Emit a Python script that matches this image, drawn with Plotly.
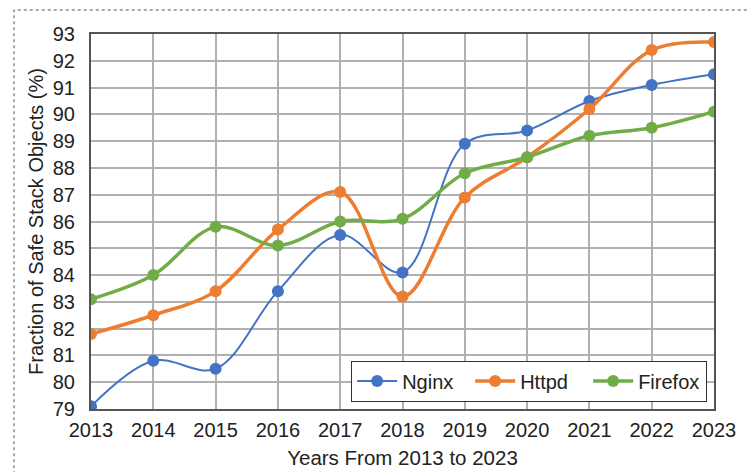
import plotly.graph_objects as go

years = [2013, 2014, 2015, 2016, 2017, 2018, 2019, 2020, 2021, 2022, 2023]
nginx = [79.1, 80.8, 80.5, 83.4, 85.5, 84.1, 88.9, 89.4, 90.5, 91.1, 91.5]
httpd = [81.8, 82.5, 83.4, 85.7, 87.1, 83.2, 86.9, 88.4, 90.2, 92.4, 92.7]
firefox = [83.1, 84.0, 85.8, 85.1, 86.0, 86.1, 87.8, 88.4, 89.2, 89.5, 90.1]
y_ticks = list(range(79, 94))

series = [
    ("Nginx", nginx, "#4472C4", 2),
    ("Httpd", httpd, "#ED7D31", 3.5),
    ("Firefox", firefox, "#70AD47", 3.5),
]

fig = go.Figure()
for name, vals, color, w in series:
    fig.add_trace(go.Scatter(
        x=years, y=vals, name=name, mode="lines+markers",
        line=dict(color=color, width=w, shape="spline", smoothing=1.0),
        marker=dict(color=color, size=12),
    ))

font_family = "Liberation Sans, Arial, sans-serif"
fig.update_layout(
    width=756, height=472,
    margin=dict(l=83, r=50, t=26, b=71),
    paper_bgcolor="white", plot_bgcolor="white",
    font=dict(family=font_family, size=20, color="#222222"),
    showlegend=True,
    legend=dict(
        orientation="h", x=0.989, y=0.02, xanchor="right", yanchor="bottom",
        bordercolor="#333333", borderwidth=1, bgcolor="white",
        font=dict(size=20), itemwidth=40, entrywidth=63,
    ),
    xaxis=dict(
        range=[2013, 2023], tickvals=years, ticktext=[str(y) for y in years],
        showgrid=True, gridcolor="#b0b0b0", gridwidth=1.5,
        showline=True, linecolor="#555555", linewidth=2, mirror=True,
        ticks="", ticklabelstandoff=2,
        title=dict(text="Years From 2013 to 2023", font=dict(size=20.5), standoff=11),
    ),
    yaxis=dict(
        range=[79, 93], tickvals=y_ticks,
        showgrid=True, gridcolor="#b0b0b0", gridwidth=1.5,
        showline=True, linecolor="#555555", linewidth=2, mirror=True,
        ticks="", ticklabelstandoff=10,
        title=dict(text="Fraction of Safe Stack Objects (%)", font=dict(size=20), standoff=4),
    ),
    shapes=[dict(
        type="rect", xref="paper", yref="paper",
        x0=-0.1236, x1=1.061, y0=-0.25, y1=1.064,
        line=dict(color="#555555", width=1, dash="dot"), layer="below",
    )],
)

fig.write_html("out.html")
